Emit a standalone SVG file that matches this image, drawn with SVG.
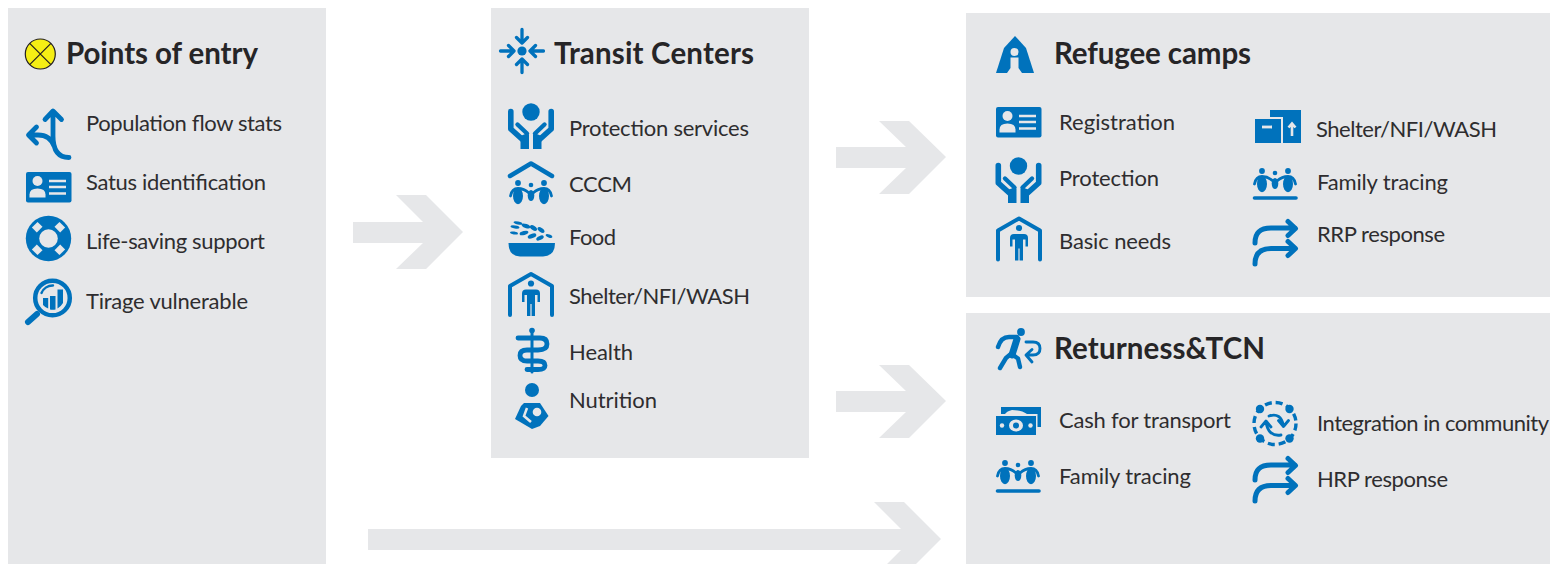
<svg xmlns="http://www.w3.org/2000/svg" xmlns:xlink="http://www.w3.org/1999/xlink" width="1550" height="564" viewBox="0 0 1550 564">
<style>
.panel{fill:#e6e7e9}
.conn{fill:#e6e7e9}
.t{font-family:Lato,"Open Sans",sans-serif;font-size:22px;fill:#2e2d2f}
.h{font-family:Lato,"Open Sans",sans-serif;font-size:29.500px;font-weight:700;fill:#262527}
.f{fill:#0072bc}
.s{fill:none;stroke:#0072bc;stroke-linecap:round;stroke-linejoin:round}
.b{fill:#e6e7e9}
.bs{fill:none;stroke:#e6e7e9}
</style>
<defs>
<g id="i-card"><rect width="45.500" height="30.500" rx="2" class="f"/><circle cx="11.500" cy="9" r="5" class="b"/><path d="M3.500 25.500v-3q0-6 8-6t8 6v3z" class="b"/><path d="M23 9h17M23 15h17M23 21.500h17" class="bs" stroke-width="2.400"/></g>
<g id="i-hands"><circle cx="23" cy="9" r="8.700" class="f"/><g id="i-hand"><path d="M2.800 8.500V26L15 37" class="s" stroke-width="5.600"/><path d="M9.500 21.500L19 30.500" class="s" stroke-width="4.400"/><path d="M12.500 33L19.500 30L21 32V46H12.500z" class="f"/></g><use xlink:href="#i-hand" transform="matrix(-1 0 0 1 46 0)"/></g>
<g id="i-family"><circle cx="9" cy="0" r="2.900" class="f"/><circle cx="22" cy="2" r="2.300" class="f"/><circle cx="35" cy="0" r="2.900" class="f"/><ellipse cx="9" cy="13" rx="5" ry="8.200" class="f"/><ellipse cx="35" cy="13" rx="5" ry="8.200" class="f"/><ellipse cx="22" cy="12.500" rx="3.300" ry="5.500" class="f"/><path d="M1.500 13Q3 5.500 9 5.500Q15 5.500 20 10M42.500 13Q41 5.500 35 5.500Q29 5.500 24 10" class="s" stroke-width="2.800"/></g>
<g id="i-shelter"><path d="M2 43V14L23 2L44 14V43" class="s" stroke-width="4"/><circle cx="23" cy="11.500" r="3.100" class="f"/><path d="M18 17.500Q14 17.500 14 21.500V30H16.500V23H19V44H22.400V32H23.600V44H27V23H29.500V30H32V21.500Q32 17.500 28 17.500Z" class="f"/></g>
<g id="i-redir"><path d="M2 23C2 12 8 8 18 8H42M35 1.500L42.500 8.500L35 15.500" class="s" stroke-width="5"/><path d="M2 44C2 33 8 28.500 18 28.500H42M35 21.500L42.500 28.500L35 35.500" class="s" stroke-width="5"/></g>
</defs>

<g id="connectors">
<path class="conn" d="M353 222H423L396 195H426L463 232L426 269H396L423 243H353Z"/>
<path class="conn" d="M836 147H906L879 121H909L946 157L909 194H879L906 168H836Z"/>
<path class="conn" d="M836 391H906L879 365H909L946 401L909 438H879L906 412H836Z"/>
<path class="conn" d="M368 529H901L874 502H904L941 539L916 564H887L901 550H368Z"/>
</g>

<g id="points-of-entry">
<rect class="panel" x="8" y="8" width="318" height="556"/>
<circle cx="40.300" cy="54" r="15" fill="#f5ee14" stroke="#231f20" stroke-width="1.200"/>
<path d="M29.700 43.400L50.900 64.600M50.900 43.400L29.700 64.600" stroke="#231f20" stroke-width="1.200"/>
<text class="h" x="66" y="63.500" textLength="192">Points of entry</text>
<g id="poe-flow"><path d="M69 157.500Q53 157.500 53 136V112M45 119.500L53 111L61.500 119.500M29 135H38Q50 135 54 146M36.500 127L28.500 135L36.500 143" class="s" stroke-width="4.800"/><text class="t" x="86" y="131" textLength="196">Population flow stats</text></g>
<g id="poe-status"><use xlink:href="#i-card" x="26" y="172"/><text class="t" x="86" y="190" textLength="180">Satus identification</text></g>
<g id="poe-life"><circle cx="48.500" cy="238.500" r="22.700" class="f"/><circle cx="48.500" cy="238.500" r="9.300" class="b"/><g class="b" transform="rotate(45 48.500 238.500)"><rect x="44.500" y="219" width="8" height="7"/><rect x="44.500" y="251" width="8" height="7"/><rect x="29" y="234.500" width="7" height="8"/><rect x="61" y="234.500" width="7" height="8"/></g><text class="t" x="86" y="249" textLength="179">Life-saving support</text></g>
<g id="poe-triage"><circle cx="52.500" cy="298" r="17.300" class="s" stroke-width="4.500"/><path d="M28 322L37 314" class="s" stroke-width="6"/><path d="M43 298h5.200v10.500q-3-1-5.200-3.500zM50 296h5.500v13.500q-3 .5-5.500 0zM57.500 289.500h5.500V303q-2 3.500-5.500 5.500z" class="f"/><path d="M41.500 293A12 12 0 0 1 53 285.500" class="s" stroke-width="2.400"/><text class="t" x="86" y="309" textLength="162">Tirage vulnerable</text></g>
</g>

<g id="transit-centers">
<rect class="panel" x="491" y="8" width="318" height="450"/>
<circle cx="522" cy="51" r="4.600" class="f"/>
<path d="M522 29.500V43M516.500 37.500L522 43L527.500 37.500M522 72.500V59M516.500 64.500L522 59L527.500 64.500M500.500 51H514M508.500 45.500L514 51L508.500 56.500M543.500 51H530M535.500 45.500L530 51L535.500 56.500" class="s" stroke-width="3.300"/>
<text class="h" x="554" y="63.500" textLength="200">Transit Centers</text>
<g id="tc-protection"><use xlink:href="#i-hands" x="508" y="103"/><text class="t" x="569" y="136" textLength="180">Protection services</text></g>
<g id="tc-cccm"><path d="M510 176L531 163.500L552 176" class="s" stroke-width="4.500"/><use xlink:href="#i-family" x="509" y="183"/><text class="t" x="569" y="192" textLength="63">CCCM</text></g>
<g id="tc-food"><path d="M508.500 243H555Q555 256 543 256.500H520Q508.500 256 508.500 243Z" class="f"/><g class="f"><ellipse cx="518" cy="223" rx="4.500" ry="1.500" transform="rotate(12 518 223)"/><ellipse cx="526" cy="226" rx="4.500" ry="2" transform="rotate(20 526 226)"/><ellipse cx="533.500" cy="228" rx="4" ry="2.200" transform="rotate(35 533.500 228)"/><ellipse cx="541" cy="230" rx="4" ry="2" transform="rotate(35 541 230)"/><ellipse cx="515" cy="227" rx="4.500" ry="1.500" transform="rotate(8 515 227)"/><ellipse cx="524" cy="233" rx="4.500" ry="2" transform="rotate(-15 524 233)"/><ellipse cx="532" cy="236" rx="4.500" ry="2.200" transform="rotate(-20 532 236)"/><ellipse cx="540" cy="238" rx="4" ry="2" transform="rotate(-25 540 238)"/><ellipse cx="549" cy="236" rx="3.500" ry="1.500" transform="rotate(20 549 236)"/><ellipse cx="514" cy="233" rx="4" ry="1.400" transform="rotate(10 514 233)"/></g><text class="t" x="569" y="245" textLength="47">Food</text></g>
<g id="tc-shelter"><use xlink:href="#i-shelter" x="508" y="272"/><text class="t" x="569" y="304" textLength="181">Shelter/NFI/WASH</text></g>
<g id="tc-health"><circle cx="532" cy="330.500" r="2.800" class="f"/><path d="M532 331V372" class="s" stroke-width="3"/><path d="M518 338H540Q547 338 547 344Q547 350 538 350H527Q520 350 520 355.500Q520 361 527 361H538Q545 361 545 365.500Q545 369.500 538 369.500H527" class="s" stroke-width="4.800"/><text class="t" x="569" y="360" textLength="64">Health</text></g>
<g id="tc-nutrition"><circle cx="532" cy="390" r="7" class="f"/><path d="M524 403H540L548.500 416L540 426L532 429L515 419L521 406Z" class="f"/><path d="M527 408L524 416L531 422" class="bs" stroke-width="2.500"/><circle cx="537" cy="412" r="4.300" class="b"/><text class="t" x="569" y="408" textLength="88">Nutrition</text></g>
</g>

<g id="refugee-camps">
<rect class="panel" x="966" y="13" width="584" height="284"/>
<path d="M1015 36L1026 48L1034 73H996L1004 48Z" class="f"/>
<circle cx="1014.500" cy="52" r="4" class="b"/><path d="M1010.500 57.500H1018.500V68L1022 73H1007L1010.500 68Z" class="b"/>
<text class="h" x="1054" y="63.500" textLength="197">Refugee camps</text>
<g id="rc-registration"><use xlink:href="#i-card" x="996" y="107"/><text class="t" x="1059" y="130" textLength="116">Registration</text></g>
<g id="rc-protection"><use xlink:href="#i-hands" x="995.500" y="157"/><text class="t" x="1059" y="186" textLength="100">Protection</text></g>
<g id="rc-basic"><use xlink:href="#i-shelter" x="996" y="216.500"/><text class="t" x="1059" y="249" textLength="112">Basic needs</text></g>
<g id="rc-shelter"><path d="M1270 110H1301V143H1283V117H1270Z" class="f"/><rect x="1255" y="119" width="26" height="24" class="f"/><path d="M1262 127H1272" class="bs" stroke-width="2.800"/><path d="M1292 136V124M1288.500 127.500L1292 123.500L1295.500 127.500" class="bs" stroke-width="2.600"/><text class="t" x="1316" y="137" textLength="181">Shelter/NFI/WASH</text></g>
<g id="rc-family"><use xlink:href="#i-family" x="1253" y="171"/><path d="M1254.500 198H1296" class="s" stroke-width="3.600"/><text class="t" x="1317" y="190" textLength="131">Family tracing</text></g>
<g id="rc-rrp"><use xlink:href="#i-redir" x="1253" y="220"/><text class="t" x="1317" y="242" textLength="128">RRP response</text></g>
</g>

<g id="returness-tcn">
<rect class="panel" x="966" y="313" width="584" height="251"/>
<circle cx="1021" cy="332" r="3.900" class="f"/>
<path d="M998 347Q1001 337 1009 337H1017" class="s" stroke-width="4.400"/>
<path d="M1017 339L1012 355" class="s" stroke-width="7"/>
<path d="M1012 353L1006 358L1000 368M1013 355L1018 358.500L1020 367" class="s" stroke-width="4.400"/>
<path d="M1026 342H1033Q1040 342 1040 348.500Q1040 355 1033 355H1027M1032 349.500L1026 355L1032 362" class="s" stroke-width="2.900"/>
<text class="h" x="1054" y="358.500" textLength="211">Returness&amp;TCN</text>
<g id="rt-cash"><path d="M1001 414V407H1041V427H1037.500V414H1027Q1022 410 1012 410Q1007 411 1005 414Z" class="f"/><rect x="996" y="416" width="40" height="19" class="f"/><ellipse cx="1016" cy="425.500" rx="7" ry="6" class="b"/><circle cx="1016" cy="425.500" r="3" class="f"/><circle cx="1002" cy="425.500" r="2.200" class="b"/><circle cx="1030.500" cy="425.500" r="2.200" class="b"/><text class="t" x="1059" y="428" textLength="172">Cash for transport</text></g>
<g id="rt-family"><use xlink:href="#i-family" x="996" y="463"/><path d="M997.500 491H1039" class="s" stroke-width="3.600"/><text class="t" x="1059" y="484" textLength="132">Family tracing</text></g>
<g id="rt-integration"><circle cx="1275" cy="423.500" r="21" fill="none" stroke="#0072bc" stroke-width="3.400" stroke-dasharray="7 4"/><circle cx="1260" cy="409" r="4.200" class="f"/><circle cx="1289.500" cy="409" r="4.200" class="f"/><circle cx="1260" cy="438.500" r="4.200" class="f"/><circle cx="1289.500" cy="438.500" r="4.200" class="f"/><path d="M1269 416Q1281 412 1283.500 426M1278.500 420.500L1283.500 426.500L1288.500 420.500M1281 435Q1268 437 1266 421.500M1261 427L1266 421L1271 427" class="s" stroke-width="2.800"/><text class="t" x="1317" y="431" textLength="232">Integration in community</text></g>
<g id="rt-hrp"><use xlink:href="#i-redir" x="1253" y="457"/><text class="t" x="1317" y="487" textLength="131">HRP response</text></g>
</g>
</svg>
